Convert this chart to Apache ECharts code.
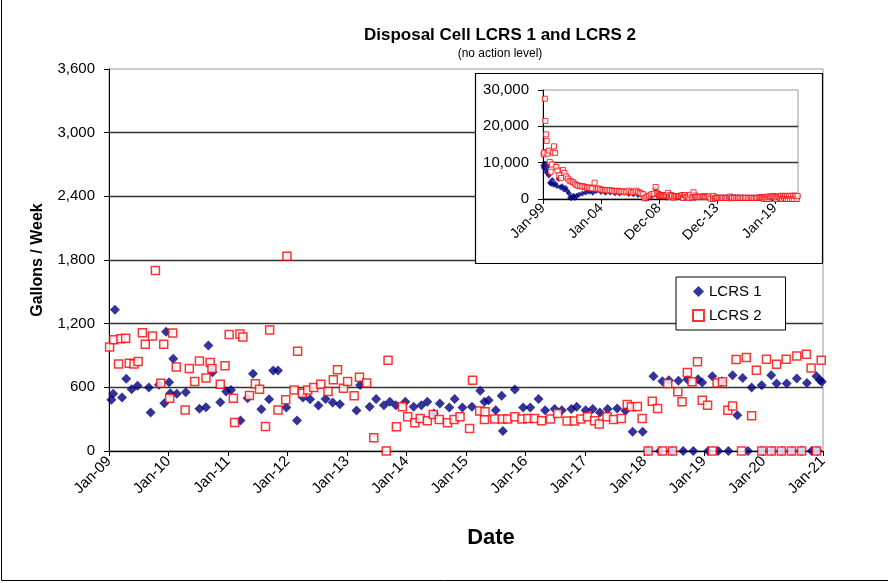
<!DOCTYPE html>
<html>
<head>
<meta charset="utf-8">
<title>Disposal Cell LCRS 1 and LCRS 2</title>
<script src="https://cdn.jsdelivr.net/npm/echarts@6.0.0/dist/echarts.min.js"></script>
<style>
  html, body { margin: 0; padding: 0; background: #fff; }
  #chart { width: 888px; height: 583px; }
</style>
</head>
<body>
<div id="chart"></div>
<script>
// series names and tick labels
const seriesNames = ['LCRS 1', 'LCRS 2'];
const mainTickLabels = ['Jan-09', 'Jan-10', 'Jan-11', 'Jan-12', 'Jan-13', 'Jan-14', 'Jan-15',
  'Jan-16', 'Jan-17', 'Jan-18', 'Jan-19', 'Jan-20', 'Jan-21'];
const insetTickLabels = ['Jan-99', 'Jan-04', 'Dec-08', 'Dec-13', 'Jan-19'];

// LCRS 1, 2009 - 2021 (decimal year, gallons / week)
const lcrs1Dates = [2009.04, 2009.07, 2009.10, 2009.22, 2009.29, 2009.38, 2009.48, 2009.67, 2009.70, 2009.84,
  2009.93, 2009.96, 2010.01, 2010.03, 2010.08, 2010.14, 2010.29, 2010.52, 2010.63, 2010.67,
  2010.74, 2010.87, 2010.97, 2011.05, 2011.21, 2011.33, 2011.42, 2011.56, 2011.69, 2011.76,
  2011.84, 2011.98, 2012.16, 2012.26, 2012.38, 2012.52, 2012.64, 2012.76, 2012.88, 2013.16,
  2013.22, 2013.38, 2013.49, 2013.62, 2013.72, 2013.82, 2013.98, 2014.12, 2014.25, 2014.35,
  2014.46, 2014.56, 2014.72, 2014.81, 2014.94, 2015.10, 2015.24, 2015.31, 2015.38, 2015.50,
  2015.60, 2015.62, 2015.82, 2015.96, 2016.08, 2016.22, 2016.33, 2016.49, 2016.61, 2016.77,
  2016.86, 2017.01, 2017.13, 2017.25, 2017.38, 2017.54, 2017.68, 2017.80, 2017.97, 2018.06,
  2018.15, 2018.26, 2018.30, 2018.41, 2018.46, 2018.57, 2018.65, 2018.72, 2018.82, 2018.90,
  2018.97, 2019.07, 2019.14, 2019.24, 2019.30, 2019.41, 2019.48, 2019.56, 2019.65, 2019.74,
  2019.80, 2019.97, 2019.97, 2020.13, 2020.14, 2020.22, 2020.31, 2020.39, 2020.48, 2020.56,
  2020.64, 2020.73, 2020.81, 2020.89, 2020.91, 2020.95, 2020.98];
const lcrs1Gallons = [482, 539, 1332, 504, 680, 583, 614, 598, 362, 624,
  450, 1125, 649, 545, 869, 539, 554, 397, 413, 995,
  743, 460, 561, 576, 287, 498, 728, 394, 488, 759,
  759, 410, 287, 504, 488, 428, 491, 457, 441, 381,
  622, 417, 489, 432, 464, 432, 464, 417, 432, 464,
  354, 448, 410, 489, 410, 417, 567, 464, 479, 385,
  520, 188, 580, 410, 410, 489, 385, 395, 385, 395,
  417, 385, 395, 363, 395, 401, 379, 182, 182, 0,
  705, 0, 658, 667, 0, 661, 0, 677, 0, 677,
  645, 0, 705, 0, 658, 0, 714, 338, 689, 0,
  598, 620, 0, 714, 0, 636, 0, 636, 0, 683,
  0, 642, 0, 705, 0, 667, 652];

// LCRS 2, 2009 - 2021
const lcrs2Dates = [2009.01, 2009.08, 2009.16, 2009.20, 2009.28, 2009.34, 2009.42, 2009.49, 2009.56, 2009.61,
  2009.73, 2009.78, 2009.87, 2009.92, 2010.02, 2010.07, 2010.13, 2010.28, 2010.35, 2010.44,
  2010.52, 2010.63, 2010.70, 2010.73, 2010.87, 2010.95, 2011.02, 2011.09, 2011.11, 2011.20,
  2011.25, 2011.36, 2011.46, 2011.53, 2011.63, 2011.70, 2011.84, 2011.97, 2011.99, 2012.11,
  2012.17, 2012.25, 2012.34, 2012.44, 2012.56, 2012.68, 2012.77, 2012.84, 2012.94, 2013.01,
  2013.12, 2013.21, 2013.33, 2013.45, 2013.66, 2013.69, 2013.83, 2013.93, 2014.02, 2014.14,
  2014.23, 2014.35, 2014.45, 2014.55, 2014.69, 2014.80, 2014.90, 2015.06, 2015.11, 2015.23,
  2015.31, 2015.32, 2015.48, 2015.61, 2015.70, 2015.82, 2015.94, 2016.04, 2016.15, 2016.27,
  2016.42, 2016.54, 2016.70, 2016.82, 2016.93, 2017.04, 2017.16, 2017.24, 2017.37, 2017.48,
  2017.61, 2017.71, 2017.78, 2017.88, 2017.96, 2018.06, 2018.13, 2018.22, 2018.30, 2018.39,
  2018.47, 2018.56, 2018.63, 2018.72, 2018.80, 2018.89, 2018.97, 2019.06, 2019.14, 2019.22,
  2019.31, 2019.40, 2019.48, 2019.54, 2019.63, 2019.71, 2019.80, 2019.88, 2019.97, 2020.05,
  2020.13, 2020.22, 2020.30, 2020.38, 2020.47, 2020.56, 2020.64, 2020.72, 2020.80, 2020.89,
  2020.97];
const lcrs2Gallons = [980, 1049, 819, 1058, 1062, 828, 819, 844, 1115, 1005,
  1084, 1701, 639, 1005, 498, 1112, 791, 387, 778, 655,
  847, 687, 835, 778, 630, 803, 1099, 498, 268, 1102,
  1074, 523, 633, 583, 230, 1140, 387, 482, 1836, 576,
  939, 545, 576, 598, 630, 561, 671, 765, 592, 655,
  520, 694, 642, 125, 0, 855, 229, 417, 323, 266,
  307, 285, 345, 298, 266, 298, 323, 213, 667, 376,
  298, 370, 301, 301, 301, 323, 301, 307, 307, 285,
  301, 354, 282, 282, 301, 323, 285, 254, 323, 298,
  307, 439, 417, 420, 307, 0, 470, 401, 0, 636,
  0, 558, 464, 739, 652, 840, 479, 432, 0, 642,
  652, 385, 423, 862, 0, 880, 332, 761, 0, 865,
  0, 818, 0, 865, 0, 896, 0, 912, 783, 0,
  855];

// earlier history shown only in the inset, 1999 - 2008
const hist1Dates = [1999.02, 1999.06, 1999.12, 1999.18, 1999.25, 1999.33, 1999.42, 1999.50, 1999.60, 1999.70,
  1999.80, 1999.92, 2000.05, 2000.20, 2000.35, 2000.50, 2000.65, 2000.80, 2000.95, 2001.10,
  2001.25, 2001.35, 2001.45, 2001.55, 2001.65, 2001.75, 2001.90, 2002.10, 2002.40, 2002.70,
  2003.00, 2003.30, 2003.60, 2004.00, 2004.40, 2004.80, 2005.20, 2005.60, 2006.00, 2006.40,
  2006.80, 2007.20, 2007.60, 2007.90, 2008.10, 2008.40, 2008.70, 2008.85];
const hist1Gallons = [9200, 8600, 13000, 9800, 8000, 7200, 9000, 6500, 4500, 4200,
  5200, 3900, 4300, 3600, 5500, 3200, 3500, 2600, 3000, 2200,
  1500, 400, 200, 600, 900, 300, 800, 1200, 1500, 1800,
  2000, 1700, 2200, 1900, 1700, 1800, 1600, 1500, 1700, 1400,
  1300, 1100, 900, 100, 300, 900, 2800, 1200];
const hist2Dates = [1999.05, 1999.10, 1999.16, 1999.20, 1999.27, 1999.32, 1999.40, 1999.50, 1999.58, 1999.66,
  1999.75, 1999.85, 1999.95, 2000.05, 2000.15, 2000.25, 2000.40, 2000.55, 2000.72, 2000.85,
  2001.00, 2001.15, 2001.30, 2001.45, 2001.60, 2001.75, 2001.90, 2002.05, 2002.20, 2002.35,
  2002.50, 2002.65, 2002.80, 2002.95, 2003.10, 2003.25, 2003.45, 2003.60, 2003.75, 2003.90,
  2004.05, 2004.20, 2004.35, 2004.50, 2004.65, 2004.80, 2004.95, 2005.10, 2005.25, 2005.40,
  2005.55, 2005.70, 2005.85, 2006.00, 2006.15, 2006.30, 2006.45, 2006.60, 2006.75, 2006.90,
  2007.05, 2007.20, 2007.35, 2007.50, 2007.65, 2007.75, 2007.85, 2008.00, 2008.15, 2008.30,
  2008.45, 2008.60, 2008.72, 2008.85, 2008.95];
const hist2Gallons = [12300, 12800, 27600, 21500, 17800, 16000, 12500, 13300, 10200, 7500,
  9500, 12800, 14500, 12700, 8800, 7800, 6500, 5800, 8000, 7200,
  6200, 5600, 5000, 4800, 4600, 4200, 3800, 3700, 3600, 3400,
  3500, 3300, 3100, 3200, 3000, 2900, 4500, 2800, 2900, 2700,
  2600, 2500, 2400, 2500, 2300, 2400, 2300, 2200, 2100, 2300,
  2200, 2000, 2100, 2000, 1900, 2100, 2300, 1900, 1800, 2000,
  2300, 1900, 1700, 1500, 1300, 200, 400, 700, 900, 1200,
  1400, 1500, 3300, 1600, 1400];

const font = "'Liberation Sans', Arial, sans-serif";
const navy = '#000080';
const red = '#ff0000';

const pairs = (xs, ys) => xs.map((x, i) => [x, ys[i]]);
// inset x axis counts years from Jan-99
const sinceJan99 = (xs) => xs.map(x => +(x - 1999).toFixed(3));
const thousands = v => v.toLocaleString('en-US');

const axisTick = { show: true, inside: false, length: 5, lineStyle: { color: '#000' } };
const axisLine = { show: true, onZero: false, lineStyle: { color: '#000', width: 1 } };
const splitLine = { show: true, showMaxLine: false, lineStyle: { color: '#333', width: 1.4 } };

const diamond = { symbol: 'diamond', itemStyle: { color: navy } };
const hollowSquare = { symbol: 'rect', itemStyle: { color: '#fff', borderColor: red, borderWidth: 1.5 } };

const option = {
  backgroundColor: '#fff',
  animation: false,
  textStyle: { fontFamily: font, color: '#000' },
  title: {
    text: 'Disposal Cell LCRS 1 and LCRS 2',
    subtext: '(no action level)',
    left: 495,
    top: 22,
    textAlign: 'center',
    itemGap: 4,
    textStyle: { fontSize: 17, fontWeight: 'bold', color: '#000', fontFamily: font },
    subtextStyle: { fontSize: 12, color: '#000', fontFamily: font },
  },
  legend: {
    data: seriesNames,
    orient: 'vertical',
    left: 676,
    top: 277,
    padding: [7, 24, 7, 16],
    itemGap: 9,
    itemWidth: 11,
    itemHeight: 11,
    backgroundColor: '#fff',
    borderColor: '#000',
    borderWidth: 1,
    textStyle: { fontSize: 15, color: '#000', fontFamily: font },
  },
  graphic: [
    // chart area border
    { type: 'polyline', z: 1, shape: { points: [[1.5, 0], [1.5, 580.5], [888, 580.5]] }, style: { stroke: '#000', fill: null, lineWidth: 1 } },
    // inset frame
    { type: 'rect', z: 5, shape: { x: 475.5, y: 73.5, width: 347, height: 190 }, style: { fill: '#fff', stroke: '#000', lineWidth: 1.2 } },
    { type: 'text', z: 5, x: 491, y: 538,
      style: { text: 'Date', fontSize: 22, fontWeight: 'bold', fontFamily: font, fill: '#000', align: 'center', verticalAlign: 'middle' } },
  ],
  grid: [
    { left: 109, top: 69, width: 714, height: 382, show: true, borderColor: '#999', borderWidth: 1, backgroundColor: '#fff' },
    { left: 543, top: 90, width: 255, height: 109, show: true, borderColor: '#999', borderWidth: 1, backgroundColor: '#fff', z: 8 },
  ],
  xAxis: [
    {
      type: 'value',
      gridIndex: 0,
      min: 2009,
      max: 2021,
      interval: 1,
      axisLine,
      axisTick,
      splitLine: { show: false },
      axisLabel: {
        rotate: 45,
        margin: 8,
        fontSize: 15,
        color: '#000',
        fontFamily: font,
        formatter: v => mainTickLabels[Math.round(v - 2009)],
      },
    },
    {
      type: 'value',
      gridIndex: 1,
      z: 9,
      min: 0,
      max: 22,
      interval: 5,
      axisLine,
      axisTick,
      splitLine: { show: false },
      axisLabel: {
        rotate: 45,
        margin: 7,
        fontSize: 14,
        color: '#000',
        fontFamily: font,
        showMaxLabel: false,
        formatter: v => insetTickLabels[Math.round(v / 5)] || '',
      },
    },
  ],
  yAxis: [
    {
      type: 'value',
      gridIndex: 0,
      min: 0,
      max: 3600,
      interval: 600,
      axisLine,
      axisTick,
      splitLine,
      name: 'Gallons / Week',
      nameLocation: 'middle',
      nameGap: 63,
      nameRotate: 90,
      nameTextStyle: { fontSize: 16, fontWeight: 'bold', color: '#000', fontFamily: font },
      axisLabel: { margin: 14, fontSize: 15, color: '#000', fontFamily: font, formatter: thousands },
    },
    {
      type: 'value',
      gridIndex: 1,
      z: 9,
      min: 0,
      max: 30000,
      interval: 10000,
      axisLine,
      axisTick,
      splitLine,
      axisLabel: { margin: 14, fontSize: 15, color: '#000', fontFamily: font, formatter: thousands },
    },
  ],
  series: [
    { name: seriesNames[0], type: 'scatter', ...diamond, symbolSize: [10, 10],
      xAxisIndex: 0, yAxisIndex: 0, data: pairs(lcrs1Dates, lcrs1Gallons) },
    { name: seriesNames[1], type: 'scatter', ...hollowSquare, symbolSize: 8,
      xAxisIndex: 0, yAxisIndex: 0, data: pairs(lcrs2Dates, lcrs2Gallons) },
    { name: seriesNames[0], type: 'scatter', ...diamond, symbolSize: [6, 6], z: 10,
      xAxisIndex: 1, yAxisIndex: 1,
      data: pairs(sinceJan99(hist1Dates.concat(lcrs1Dates)), hist1Gallons.concat(lcrs1Gallons)) },
    { name: seriesNames[1], type: 'scatter', symbol: 'rect', symbolSize: 5, z: 11,
      itemStyle: { color: '#fff', borderColor: red, borderWidth: 1 },
      xAxisIndex: 1, yAxisIndex: 1,
      data: pairs(sinceJan99(hist2Dates.concat(lcrs2Dates)), hist2Gallons.concat(lcrs2Gallons)) },
  ],
};

const chart = echarts.init(document.getElementById('chart'), null, { renderer: 'canvas' });
chart.setOption(option);
</script>
</body>
</html>
